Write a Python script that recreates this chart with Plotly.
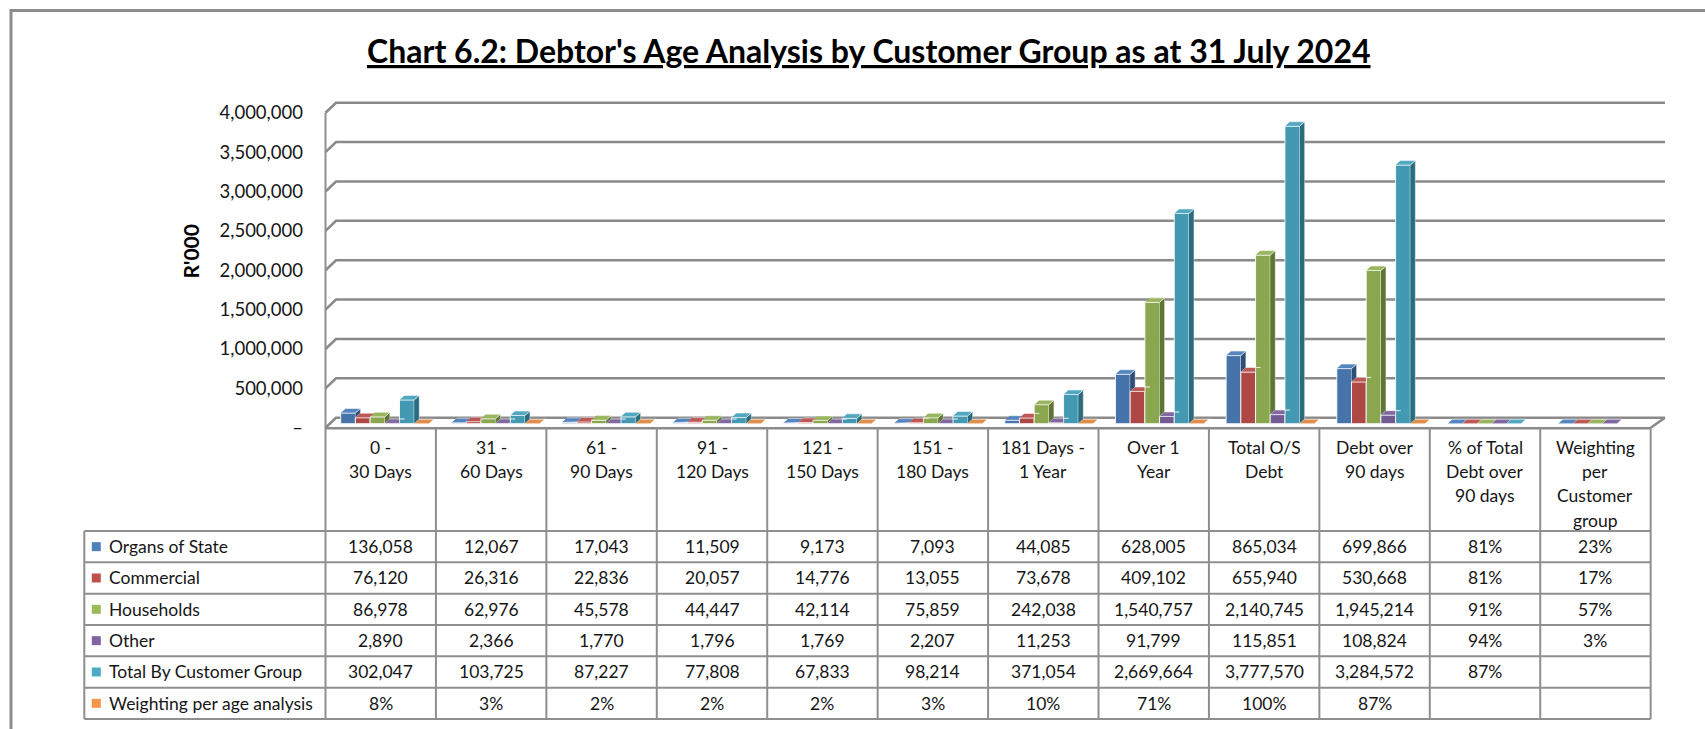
import plotly.graph_objects as go

# ---------------------------------------------------------------- data
categories = ["0 -\n30 Days", "31 -\n60 Days", "61 -\n90 Days", "91 -\n120 Days",
              "121 -\n150 Days", "151 -\n180 Days", "181 Days -\n1 Year", "Over 1\nYear",
              "Total O/S\nDebt", "Debt over\n90 days", "% of Total\nDebt over\n90 days",
              "Weighting\nper\nCustomer\ngroup"]

series_names = ["Organs of State", "Commercial", "Households", "Other",
                "Total By Customer Group", "Weighting per age analysis"]

organs_of_state = [136058, 12067, 17043, 11509, 9173, 7093, 44085, 628005, 865034, 699866, 0.81, 0.23]
commercial = [76120, 26316, 22836, 20057, 14776, 13055, 73678, 409102, 655940, 530668, 0.81, 0.17]
households = [86978, 62976, 45578, 44447, 42114, 75859, 242038, 1540757, 2140745, 1945214, 0.91, 0.57]
other = [2890, 2366, 1770, 1796, 1769, 2207, 11253, 91799, 115851, 108824, 0.94, 0.03]
total_by_group = [302047, 103725, 87227, 77808, 67833, 98214, 371054, 2669664, 3777570, 3284572, 0.87, None]
weighting_age = [0.08, 0.03, 0.02, 0.02, 0.02, 0.03, 0.10, 0.71, 1.00, 0.87, None, None]

series_values = [organs_of_state, commercial, households, other, total_by_group, weighting_age]

y_ticks = [0, 500000, 1000000, 1500000, 2000000, 2500000, 3000000, 3500000, 4000000]

title_text = "Chart 6.2: Debtor's Age Analysis by Customer Group as at 31 July 2024"
y_title = "R'000"

# ---------------------------------------------------------------- styling
key_colors = ["#4F81BD", "#C0504D", "#9BBB59", "#8064A2", "#4BACC6", "#F79646"]
front_colors = ["#4673AA", "#AD4845", "#8AA750", "#735A92", "#4299B1", "#DB843D"]
side_colors = ["#2D4E77", "#74302D", "#5E7533", "#4C3B63", "#2A6C7E", "#A85A1E"]
top_colors = ["#5585BE", "#BD5855", "#99B65E", "#8168A1", "#52A8C0", "#E08E4B"]

FONT = "Lato"
TEXT = "#161616"
GRID = "#8a8a8a"
TABLE_LINE = "#8f8f8f"

W, H = 1705, 729
PLOT_X0 = 325.5      # pixel of the first category's left edge
COL_W = 110.43       # pixel width of one category
ZERO_Y = 427.7       # pixel of value 0 on the front plane
PX_PER_M = 78.75     # pixels per 1,000,000
N = len(categories)


def px_x(px):
    return (px - PLOT_X0) / COL_W


def py_y(py):
    return (ZERO_Y - py) / PX_PER_M * 1e6


def dpx(px):
    return px / COL_W


def dpy(py):
    return py / PX_PER_M * 1e6


def paper_y(py):
    return 1 - py / H


# back-wall depth of the 3-D box
WALL_DX_L, WALL_DX_R, WALL_DY = 10.5, 14.3, 10.0
# column geometry
BAR_PITCH = 14.7
BAR_START = 15.2
BAR_START_STEP = 0.25
SIDE_DX, SIDE_DY = 5.0, 4.5
BASE = dpy(4.0)

fig = go.Figure()

# ---------------------------------------------------------------- columns
w = dpx(BAR_PITCH)
sd, sdy = dpx(SIDE_DX), dpy(SIDE_DY)


def bar_left(i, s):
    return i + dpx(BAR_START + BAR_START_STEP * i) + s * w


for s, vals in enumerate(series_values):
    xs, ys, offs = [], [], []
    for i, v in enumerate(vals):
        if v is None:
            continue
        xs.append(i)
        ys.append(v)
        offs.append(bar_left(i, s) - i)
    fig.add_trace(go.Bar(
        x=xs, y=ys, base=[BASE] * len(xs), offset=offs, width=[w] * len(xs),
        marker=dict(color=front_colors[s], line=dict(color="rgba(255,255,255,0.85)", width=1)),
        hoverinfo="skip", showlegend=False, name=series_names[s]))

# side and top faces of each column, hidden where the neighbour on the right covers them
for s, vals in enumerate(series_values):
    side_x, side_y, top_x, top_y = [], [], [], []
    for i, v in enumerate(vals):
        if v is None:
            continue
        x0 = bar_left(i, s)
        x1 = x0 + w
        T = BASE + v
        nxt = series_values[s + 1][i] if s + 1 < len(series_values) else None
        Tn = BASE + nxt if nxt is not None else None
        lo = BASE if Tn is None else max(BASE, Tn)
        if lo < T:
            side_x += [x1, x1 + sd, x1 + sd, x1, None]
            side_y += [lo, lo + sdy, T + sdy, T, None]
        h = T if Tn is None else min(max(Tn, T), T + sdy)
        top_x += [x0, x1, x1, x1 + sd * (h - T) / sdy, x1 + sd, x0 + sd, None]
        top_y += [T, T, h, h, T + sdy, T + sdy, None]
    fig.add_trace(go.Scatter(
        x=side_x, y=side_y, mode="lines", fill="toself", fillcolor=side_colors[s],
        line=dict(color="rgba(255,255,255,0.55)", width=0.7),
        hoverinfo="skip", showlegend=False))
    fig.add_trace(go.Scatter(
        x=top_x, y=top_y, mode="lines", fill="toself", fillcolor=top_colors[s],
        line=dict(color="rgba(255,255,255,0.75)", width=0.7),
        hoverinfo="skip", showlegend=False))

# ---------------------------------------------------------------- walls and gridlines
shapes = []
x_back_l = dpx(WALL_DX_L)
x_back_r = N + dpx(WALL_DX_R)
dy_back = dpy(WALL_DY)
for v in y_ticks:
    shapes.append(dict(
        type="path", xref="x", yref="y", layer="below",
        path=f"M 0,{v} L {x_back_l},{v + dy_back} L {x_back_r},{v + dy_back}",
        line=dict(color=GRID, width=2.6)))
# right edge of the floor
shapes.append(dict(type="line", xref="x", yref="y", layer="below",
                   x0=N, y0=0, x1=x_back_r, y1=dy_back, line=dict(color=GRID, width=2.6)))

# ---------------------------------------------------------------- data table
HEAD_TOP = 428.3
HEAD_BOTTOM = 531.0
ROW_H = 31.33
LEG_LEFT = 84.3
rows_bottom = HEAD_BOTTOM + ROW_H * len(series_names)

# horizontal rules
shapes.append(dict(type="line", xref="x", yref="y", x0=0, x1=N,
                   y0=py_y(HEAD_TOP), y1=py_y(HEAD_TOP), line=dict(color=GRID, width=2.4)))
for r in range(len(series_names) + 1):
    yy = py_y(HEAD_BOTTOM + r * ROW_H)
    shapes.append(dict(type="line", xref="x", yref="y", x0=px_x(LEG_LEFT), x1=N,
                       y0=yy, y1=yy, line=dict(color=TABLE_LINE, width=2)))
# vertical rules
for c in range(N + 1):
    top = y_ticks[-1] if c == 0 else py_y(HEAD_TOP)
    shapes.append(dict(type="line", xref="x", yref="y", x0=c, x1=c,
                       y0=top, y1=py_y(rows_bottom), line=dict(color=TABLE_LINE, width=2)))
shapes.append(dict(type="line", xref="x", yref="y", x0=px_x(LEG_LEFT), x1=px_x(LEG_LEFT),
                   y0=py_y(HEAD_BOTTOM), y1=py_y(rows_bottom), line=dict(color=TABLE_LINE, width=2)))

# chart frame: left and top edges (the rest lies beyond the page)
shapes.append(dict(type="path", xref="paper", yref="paper",
                   path=f"M {11 / W},-0.1 L {11 / W},{paper_y(10.5)} L 1.1,{paper_y(10.5)}",
                   line=dict(color="#8c8c8c", width=3)))

annotations = []
# column headings
LINE_PITCH = 24.4
for c, label in enumerate(categories):
    for k, part in enumerate(label.split("\n")):
        annotations.append(dict(
            x=c + 0.5, y=paper_y(447 + k * LINE_PITCH), xref="x", yref="paper",
            text=part, showarrow=False, xanchor="center", yanchor="middle",
            font=dict(family=FONT, size=17.5, color=TEXT)))


def fmt(v):
    if v is None:
        return ""
    if v < 2:
        return f"{v:.0%}"
    return f"{v:,.0f}"


for s, vals in enumerate(series_values):
    cy = HEAD_BOTTOM + (s + 0.5) * ROW_H
    annotations.append(dict(
        x=px_x(107), y=paper_y(cy), xref="x", yref="paper", text=series_names[s],
        showarrow=False, xanchor="left", yanchor="middle",
        font=dict(family=FONT, size=17.5, color=TEXT)))
    for i, v in enumerate(vals):
        if v is None:
            continue
        annotations.append(dict(
            x=i + 0.5, y=paper_y(cy), xref="x", yref="paper", text=fmt(v),
            showarrow=False, xanchor="center", yanchor="middle",
            font=dict(family=FONT, size=17.5, color=TEXT)))
    # legend key
    fig.add_trace(go.Scatter(
        x=[px_x(96.3)], y=[py_y(cy)], mode="markers",
        marker=dict(symbol="square", size=9, color=key_colors[s], line=dict(width=0)),
        hoverinfo="skip", showlegend=False))

# title and axis title
annotations.append(dict(
    x=869 / W, y=paper_y(50), xref="paper", yref="paper",
    text=f"<b><u>{title_text}</u></b>", showarrow=False, xanchor="center", yanchor="middle",
    font=dict(family=FONT, size=32, color="#000000")))
annotations.append(dict(
    x=189.5 / W, y=paper_y(252), xref="paper", yref="paper", text=f"<b>{y_title}</b>",
    textangle=-90, showarrow=False, xanchor="center", yanchor="middle",
    font=dict(family=FONT, size=21, color="#000000")))

fig.update_layout(
    width=W, height=H,
    margin=dict(l=0, r=0, t=0, b=0),
    paper_bgcolor="white", plot_bgcolor="white",
    barmode="overlay",
    showlegend=False,
    shapes=shapes,
    annotations=annotations,
    xaxis=dict(range=[px_x(0), px_x(W)], visible=False, fixedrange=True),
    yaxis=dict(
        range=[py_y(H), py_y(0)], anchor="free", position=303 / W,
        tickvals=y_ticks,
        ticktext=[f"{v:,}" if v else "–" for v in y_ticks],
        tickfont=dict(family=FONT, size=18.5, color=TEXT),
        ticks="", showgrid=False, zeroline=False, showline=False, fixedrange=True),
)

# keep the page exactly the size of the figure
page_css = ("document.documentElement.style.overflow='hidden';"
            "document.body.style.margin='0';document.body.style.overflow='hidden';")

fig.write_html("out.html", config={"displayModeBar": False}, post_script=page_css)
